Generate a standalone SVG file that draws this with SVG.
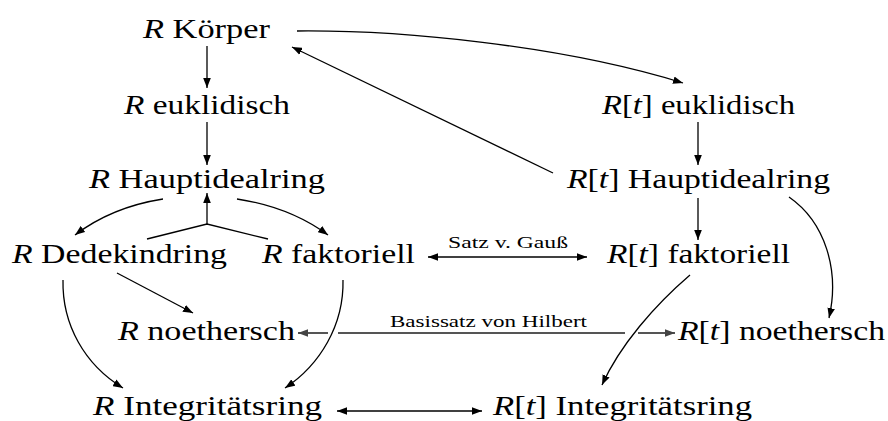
<svg xmlns="http://www.w3.org/2000/svg" width="888" height="421" viewBox="0 0 888 421">
<style>
text{font-family:'Liberation Serif','DejaVu Serif',serif}
.n{font-size:28px;fill:#000}
.s{font-size:16px;fill:#000}
.i{font-style:italic}
.c{fill:none;stroke:#000;stroke-width:1.3}
.g{fill:none;stroke:#555;stroke-width:2}
</style>
<defs>
<marker id="a" viewBox="0 -4 10 8" refX="10" refY="0" markerWidth="10" markerHeight="8" markerUnits="userSpaceOnUse" orient="auto-start-reverse">
<path d="M0,-3.8 L10,0 L0,3.8 Z" fill="#000"/>
</marker>
<marker id="ag" viewBox="0 -4 10 8" refX="10" refY="0" markerWidth="10" markerHeight="8" markerUnits="userSpaceOnUse" orient="auto-start-reverse">
<path d="M0,-3.8 L10,0 L0,3.8 Z" fill="#444"/>
</marker>
</defs>
<g id="connectors">
<path class="c" d="M207,46 L207,88" marker-end="url(#a)"/>
<path class="c" d="M207,122 L207,165" marker-end="url(#a)"/>
<path class="c" d="M297,31 C400,30 560,45 683,83" marker-end="url(#a)"/>
<path class="c" d="M553,173 L292,47" marker-end="url(#a)"/>
<path class="c" d="M698,122 L698,165" marker-end="url(#a)"/>
<path class="c" d="M163,199 Q112,207 75,235" marker-end="url(#a)"/>
<path class="c" d="M237,199 Q290,207 328,235" marker-end="url(#a)"/>
<path class="c" d="M147,239 L207,224 L268,239"/>
<path class="c" d="M207,224 L207,193" marker-end="url(#a)"/>
<path class="c" d="M428,257 L587,257" marker-start="url(#a)" marker-end="url(#a)"/>
<path class="c" d="M117,273 L193,313" marker-end="url(#a)"/>
<path class="c" d="M63,280 C62,325 85,365 123,388" marker-end="url(#a)"/>
<path class="c" d="M343,280 C344,325 320,365 285,388" marker-end="url(#a)"/>
<path class="g" d="M298,333 L328,333 M338,333 L625,333 M638,333 L675,333" marker-start="url(#ag)" marker-end="url(#ag)"/>
<path class="c" d="M698,198 L698,240" marker-end="url(#a)"/>
<path class="c" d="M789,197 C825,222 840,270 829,318" marker-end="url(#a)"/>
<path class="c" d="M690,275 C655,305 620,345 602,385" marker-end="url(#a)"/>
<path class="c" d="M337,411 L482,411" marker-start="url(#a)" marker-end="url(#a)"/>
<text class="s" font-family="Liberation Serif, serif" x="448" y="248" textLength="120" lengthAdjust="spacingAndGlyphs">Satz v. Gauß</text>
<text class="s" font-family="Liberation Serif, serif" x="390" y="327" textLength="197" lengthAdjust="spacingAndGlyphs">Basissatz von Hilbert</text>
</g>
<g id="R-koerper"><text class="n" x="143" y="38" textLength="127" lengthAdjust="spacingAndGlyphs"><tspan class="i">R</tspan> Körper</text></g>
<g id="R-euklidisch"><text class="n" x="124" y="114" textLength="166" lengthAdjust="spacingAndGlyphs"><tspan class="i">R</tspan> euklidisch</text></g>
<g id="R-hauptidealring"><text class="n" x="89" y="188" textLength="236" lengthAdjust="spacingAndGlyphs"><tspan class="i">R</tspan> Hauptidealring</text></g>
<g id="Rt-euklidisch"><text class="n" x="602" y="114" textLength="193" lengthAdjust="spacingAndGlyphs"><tspan class="i">R</tspan>[<tspan class="i">t</tspan>] euklidisch</text></g>
<g id="Rt-hauptidealring"><text class="n" x="567" y="188" textLength="263" lengthAdjust="spacingAndGlyphs"><tspan class="i">R</tspan>[<tspan class="i">t</tspan>] Hauptidealring</text></g>
<g id="R-dedekindring"><text class="n" x="12" y="263" textLength="215" lengthAdjust="spacingAndGlyphs"><tspan class="i">R</tspan> Dedekindring</text></g>
<g id="R-faktoriell"><text class="n" x="262" y="263" textLength="153" lengthAdjust="spacingAndGlyphs"><tspan class="i">R</tspan> faktoriell</text></g>
<g id="Rt-faktoriell"><text class="n" x="607" y="263" textLength="183" lengthAdjust="spacingAndGlyphs"><tspan class="i">R</tspan>[<tspan class="i">t</tspan>] faktoriell</text></g>
<g id="R-noethersch"><text class="n" x="118" y="340" textLength="177" lengthAdjust="spacingAndGlyphs"><tspan class="i">R</tspan> noethersch</text></g>
<g id="Rt-noethersch"><text class="n" x="678" y="340" textLength="207" lengthAdjust="spacingAndGlyphs"><tspan class="i">R</tspan>[<tspan class="i">t</tspan>] noethersch</text></g>
<g id="R-integritaetsring"><text class="n" x="93" y="415" textLength="229" lengthAdjust="spacingAndGlyphs"><tspan class="i">R</tspan> Integritätsring</text></g>
<g id="Rt-integritaetsring"><text class="n" x="493" y="415" textLength="259" lengthAdjust="spacingAndGlyphs"><tspan class="i">R</tspan>[<tspan class="i">t</tspan>] Integritätsring</text></g>
</svg>
